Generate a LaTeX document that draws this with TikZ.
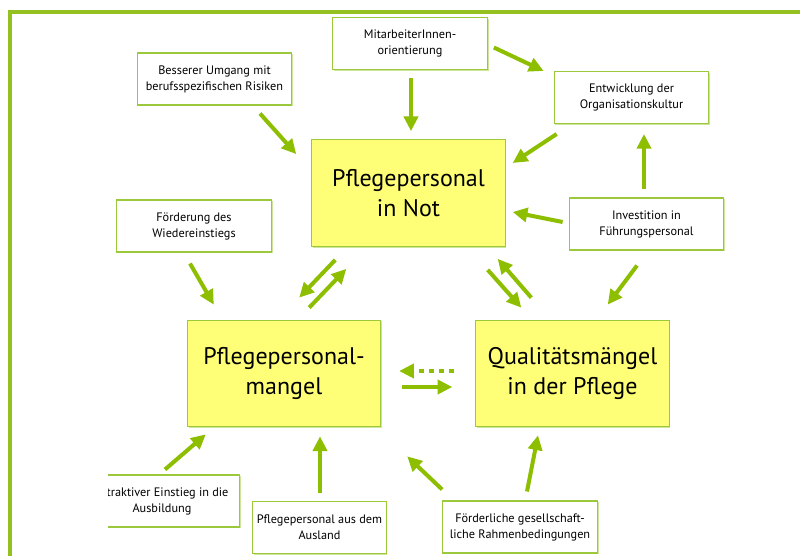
\documentclass[tikz,border=0pt]{standalone}
\usepackage{fontspec}
\setmainfont{PT Sans}
\usetikzlibrary{arrows.meta,calc,shadows}
\definecolor{pflframe}{HTML}{94C11F}
\definecolor{pflarrow}{HTML}{8DBE00}
\definecolor{pflline}{HTML}{9CC83C}
\definecolor{pflshade}{HTML}{CFE59A}
\definecolor{pflyellow}{HTML}{FFFF77}

\begin{document}
\begin{tikzpicture}[x=0.75pt,y=-0.75pt,
  box/.style={draw=pflline,line width=0.8pt,fill=white,align=center,inner sep=2pt,
    minimum width=116pt,minimum height=39pt,font=\fontsize{9.2}{12}\selectfont,
    general shadow={fill=pflshade,shadow xshift=0.9pt,shadow yshift=-0.9pt}},
  core/.style={box,fill=pflyellow,minimum width=145pt,minimum height=80pt,
    font=\fontsize{18}{22.5}\selectfont},
  ar/.style={-{Triangle[length=11pt,width=10.5pt]},pflarrow,line width=3pt},
  dar/.style={ar,dash pattern=on 4.3pt off 3.2pt}]
  \useasboundingbox (0,0) rectangle (800,556);
  \clip (0,0) rectangle (800,556);
  \fill[white] (0,0) rectangle (800,556);
  \draw[pflframe,line width=3pt] (10,12) rectangle (830,600);
  % the three core problems
  \node[core] (not) at (408.5,193) {Pflegepersonal\\in Not};
  \node[core] (mangel) at (284,373.5) {Pflegepersonal-\\mangel};
  \node[core] (qual) at (572.5,373.5) {Qualitätsmängel\\in der Pflege};
  % measures
  \node[box] (mitarb) at (410,43.5) {MitarbeiterInnen-\\orientierung};
  \node[box] (besser) at (214.5,79) {Besserer Umgang mit\\berufsspezifischen Risiken};
  \node[box] (entw) at (631.5,97.5) {Entwicklung der\\Organisationskultur};
  \node[box] (invest) at (646.5,224) {Investition in\\Führungspersonal};
  \node[box] (wieder) at (194,226) {Förderung des\\Wiedereinstiegs};
  \begin{scope}
    \clip (108,0) rectangle (800,556);
    \node[box] (attrakt) at (162,501) {Attraktiver Einstieg in die\\Ausbildung};
  \end{scope}
  \node[box,minimum width=100pt] (ausland) at (319.5,527.5) {Pflegepersonal aus dem\\Ausland};
  \node[box] (foerder) at (520,527) {Förderliche gesellschaft-\\liche Rahmenbedingungen};
  % arrows
  \draw[ar] ($(besser.south)+(45.5,8)$) -- ($(not.north west)+(-15,15)$);
  \draw[ar] ($(mitarb.south)+(1,8)$) -- ($(not.north)+(2.5,-8)$);
  \draw[ar] ($(mitarb.east)+(6,4)$) -- ($(entw.north west)+(-10,0)$);
  \draw[ar] ($(entw.south west)+(3,10)$) -- ($(not.east)+(7,-30)$);
  \draw[ar] ($(invest.north)+(-2.5,-8)$) -- ($(entw.south)+(12.5,10)$);
  \draw[ar] ($(invest.west)+(-6,-2)$) -- ($(not.east)+(7,19)$);
  \draw[ar] ($(invest.south)+(-9.5,15)$) -- ($(qual.north east)+(-62,-15)$);
  \draw[ar] ($(wieder.south)+(-4,11)$) -- ($(mangel.north west)+(27,-15)$);
  \draw[ar] ($(not.south west)+(24,13)$) -- ($(mangel.north east)+(-82,-22)$);
  \draw[ar] ($(mangel.north east)+(-72,-12)$) -- ($(not.south west)+(35,22)$);
  \draw[ar] ($(not.south east)+(-18,23)$) -- ($(qual.north west)+(46,-12)$);
  \draw[ar] ($(qual.north west)+(56,-22)$) -- ($(not.south east)+(-8,12)$);
  \draw[dar] ($(qual.west)+(-21,-2.5)$) -- ($(mangel.east)+(18,-2.5)$);
  \draw[ar] ($(mangel.east)+(21,13.5)$) -- ($(qual.west)+(-23,13.5)$);
  \draw[ar] ($(attrakt.north)+(3,-5)$) -- ($(mangel.south west)+(19,7)$);
  \draw[ar] ($(ausland.north)+(0.5,-8)$) -- ($(mangel.south)+(36,9)$);
  \draw[ar] ($(foerder.north west)+(0,-11)$) -- ($(mangel.south east)+(26,29)$);
  \draw[ar] ($(foerder.north)+(7,-9)$) -- ($(qual.south)+(-34.5,8)$);
\end{tikzpicture}
\end{document}
